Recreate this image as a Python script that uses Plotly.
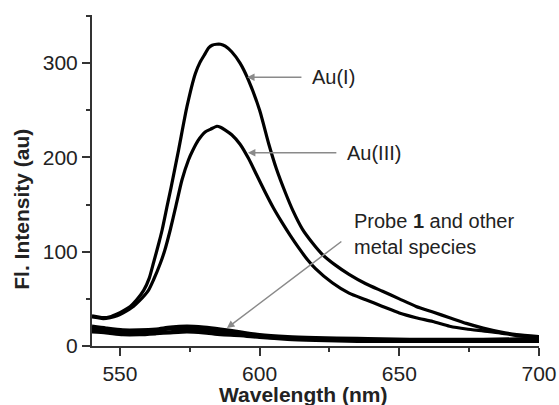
import plotly.graph_objects as go

# Au(I)
au1_x = [540, 542, 544, 546.5, 549, 551, 553.7, 556, 558.5, 560.5, 562, 564, 565.1, 567, 568.3, 571, 574, 577,
         578.7, 580.5, 581.7, 583, 584.6, 586, 587.7, 590, 593, 596, 600, 603.3, 606, 609.3, 612, 615.3, 619,
         622.5, 627, 632, 638, 644, 650, 656, 662, 668, 674, 680, 686, 692, 700]
au1_y = [32, 31, 30, 31, 34, 37, 42, 49, 59, 72, 88, 110, 123, 150, 168, 208, 254, 289,
         301, 310, 316, 319, 320, 320, 318, 312, 300, 282, 250, 214, 188, 162, 143, 124, 109,
         97, 86, 76, 66, 58, 50, 42, 36, 30, 24, 19, 15, 12, 10]

# Au(III)
au3_x = [540, 542, 544, 546.5, 549, 551, 554.8, 557, 560.2, 562, 564.5, 566, 568, 570, 572.2, 574.5, 576, 578,
         580.5, 582.5, 584.7, 586, 587.7, 590, 593, 596, 599, 602, 605, 608, 611, 614, 617, 620, 626, 632,
         638, 644, 650, 656, 662, 668, 674, 680, 686, 692, 700]
au3_y = [31, 30, 29, 30, 32, 35, 42, 48, 59, 70, 88, 101, 123, 148, 176, 197, 207, 218,
         227, 230, 233, 232, 229, 224, 214, 199, 181, 163, 146, 131, 117, 104, 92, 82, 67, 56,
         49, 42, 35, 30, 26, 21, 18, 16, 14, 11, 9]

# Probe 1 and other metal species
bg_x = [540, 545, 551, 557, 563, 568, 574, 580, 586, 593, 600, 610, 620, 635, 650, 665, 680, 700]
bg1_y = [21, 19, 17, 17, 18, 20, 21, 20, 18, 15, 12, 10, 9, 8, 7, 7, 7, 8]
bg2_y = [19, 17, 15, 15, 16, 18, 19, 18, 16, 14, 11, 9, 8, 7, 7, 6, 6, 7]
bg3_y = [17, 15, 14, 14, 14, 15, 17, 16, 14, 13, 10, 8, 7, 6, 6, 5, 5, 6]
bg4_y = [15, 14, 12, 12, 13, 14, 15, 14, 12, 11, 9, 7, 6, 5, 5, 5, 5, 5]

x_ticks = [550, 600, 650, 700]
y_ticks = [0, 100, 200, 300]

FONT = "Liberation Sans, Arial, sans-serif"
fig = go.Figure()
line = dict(color="black", width=3.2, shape="spline", smoothing=0.6)
for yy in [bg4_y, bg3_y, bg2_y, bg1_y]:
    fig.add_trace(go.Scatter(x=bg_x, y=yy, mode="lines", line=line, showlegend=False, hoverinfo="skip"))
fig.add_trace(go.Scatter(x=au3_x, y=au3_y, mode="lines", line=line, showlegend=False, hoverinfo="skip"))
fig.add_trace(go.Scatter(x=au1_x, y=au1_y, mode="lines", line=line, showlegend=False, hoverinfo="skip"))

axis_common = dict(
    showgrid=False, zeroline=False, showline=True, linecolor="#333", linewidth=2,
    ticks="outside", ticklen=8, tickwidth=1.5, tickcolor="#333", automargin=False,
    tickfont=dict(family=FONT, size=21, color="#222"),
)
fig.update_xaxes(range=[540, 700], tickvals=x_ticks, ticktext=[str(v) for v in x_ticks],
                 minor=dict(tickvals=[575, 625, 675], ticklen=4, tickcolor="#333", ticks="outside"),
                 **axis_common)
fig.update_yaxes(range=[0, 351], tickvals=y_ticks, ticktext=[str(v) for v in y_ticks],
                 minor=dict(tickvals=[50, 150, 250, 350], ticklen=4, tickcolor="#333", ticks="outside"),
                 **axis_common)

arrow = dict(showarrow=True, arrowhead=2, arrowsize=1, arrowwidth=1.5, arrowcolor="#8a8a8a",
             axref="x", ayref="y", xref="x", yref="y", text="")
fig.add_annotation(x=595.5, y=285, ax=615.5, ay=285, **arrow)
fig.add_annotation(x=595.8, y=205, ax=628, ay=205, **arrow)
fig.add_annotation(x=588.3, y=19, ax=629.8, ay=112, **arrow)

tf = dict(family=FONT, size=20, color="#222")
fig.add_annotation(x=618, y=285, text="Au(I)", showarrow=False, xanchor="left", yanchor="middle", font=tf)
fig.add_annotation(x=630.5, y=205, text="Au(III)", showarrow=False, xanchor="left", yanchor="middle", font=tf)
fig.add_annotation(x=633, y=119, text="Probe <b>1</b> and other<br>metal species", showarrow=False,
                   xanchor="left", yanchor="middle", align="left", font=tf)

lf = dict(family=FONT, size=21, color="#222")
fig.add_annotation(x=0.472, y=-0.148, xref="paper", yref="paper", text="<b>Wavelength (nm)</b>",
                   showarrow=False, xanchor="center", yanchor="middle", font=lf)
fig.add_annotation(x=-0.157, y=0.414, xref="paper", yref="paper", text="<b>Fl. Intensity (au)</b>",
                   showarrow=False, xanchor="center", yanchor="middle", textangle=-90, font=lf)

fig.update_layout(width=559, height=405, margin=dict(l=92, r=20, t=15, b=59, autoexpand=False),
                  plot_bgcolor="white", paper_bgcolor="white")
fig.write_html("out.html", config={"displayModeBar": False},
               post_script="document.body.style.margin='0';document.body.style.overflow='hidden';")
